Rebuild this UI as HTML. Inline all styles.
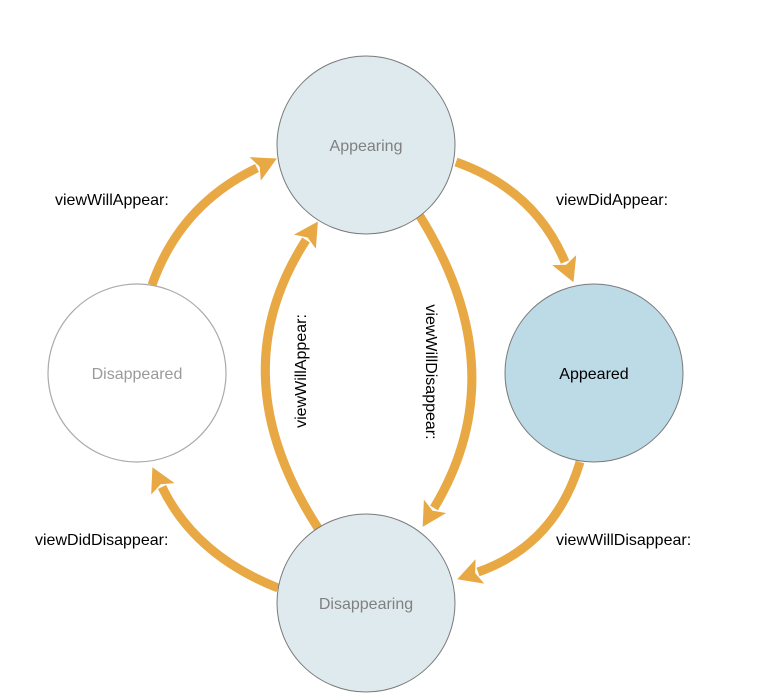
<!DOCTYPE html>
<html><head><style>
html,body{margin:0;padding:0;background:#fff;}
svg{display:block;}
text{font-family:"Liberation Sans",sans-serif;font-size:16px;}
</style></head><body>
<svg width="778" height="698" viewBox="0 0 778 698" xmlns="http://www.w3.org/2000/svg">
<defs>
<marker id="a" markerUnits="userSpaceOnUse" markerWidth="30" markerHeight="30" refX="2" refY="13" orient="auto">
<path d="M0,0 L24,13 L0,26 L5,13 Z" fill="#E8A843"/>
</marker>
</defs>
<g fill="none" stroke="#E8A843" stroke-width="9">
<path d="M456,162 Q535,190 565,262" marker-end="url(#a)"/>
<path d="M580,462 Q555,545 478,572" marker-end="url(#a)"/>
<path d="M278,588 Q195,555 162,487" marker-end="url(#a)"/>
<path d="M152,285 Q180,205 257,168" marker-end="url(#a)"/>
<path d="M318,528 Q219,375 306,240" marker-end="url(#a)"/>
<path d="M418,213 Q517,370 434,508" marker-end="url(#a)"/>
</g>
<circle cx="366" cy="145" r="89" fill="#DFEAEE" stroke="#7a7a7a" stroke-width="1"/>
<circle cx="594" cy="373" r="89" fill="#BCDBE6" stroke="#7a7a7a" stroke-width="1"/>
<circle cx="137" cy="373" r="89" fill="#fff" stroke="#aaa" stroke-width="1.2"/>
<circle cx="366" cy="603" r="89" fill="#DFEAEE" stroke="#7a7a7a" stroke-width="1"/>
<text x="366" y="151" text-anchor="middle" fill="#808080">Appearing</text>
<text x="594" y="379" text-anchor="middle" fill="#000">Appeared</text>
<text x="137" y="379" text-anchor="middle" fill="#9a9a9a">Disappeared</text>
<text x="366" y="609" text-anchor="middle" fill="#808080">Disappearing</text>
<text x="55" y="205" fill="#000">viewWillAppear:</text>
<text x="556" y="205" fill="#000">viewDidAppear:</text>
<text x="35" y="545" fill="#000">viewDidDisappear:</text>
<text x="556" y="545" fill="#000">viewWillDisappear:</text>
<text transform="translate(306,371) rotate(-90)" text-anchor="middle" fill="#000">viewWillAppear:</text>
<text transform="translate(426,372) rotate(90)" text-anchor="middle" fill="#000">viewWillDisappear:</text>
</svg>
</body></html>
